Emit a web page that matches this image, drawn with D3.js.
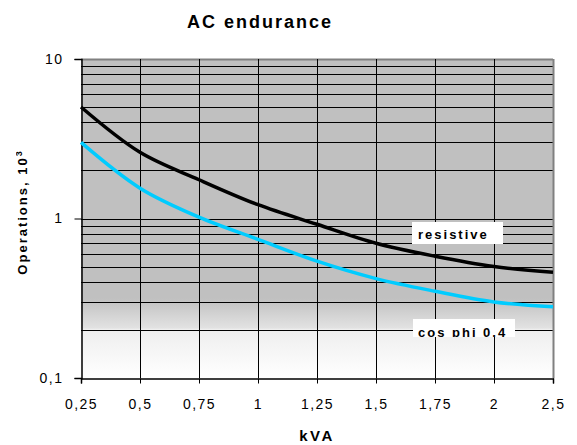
<!DOCTYPE html>
<html>
<head>
<meta charset="utf-8">
<script src="https://cdn.jsdelivr.net/npm/d3@7"></script>
<style>
  body { margin: 0; background: #fff; }
  text { font-family: Arial, "Liberation Sans", sans-serif; }
</style>
</head>
<body>
<div id="chart"></div>
<script>
// categories on the x axis (Excel line chart, so evenly spaced)
var kva = ["0,25", "0,5", "0,75", "1", "1,25", "1,5", "1,75", "2", "2,5"];
// operations (x 10^3)
var resistive = [5.0, 2.6, 1.75, 1.22, 0.92, 0.70, 0.58, 0.50, 0.46];
var cosPhi = [3.0, 1.55, 1.02, 0.74, 0.54, 0.42, 0.35, 0.30, 0.28];
var yTicks = [0.1, 1, 10];

var width = 577, height = 445;
// note: "top" is a reserved window property, so use plot* names
var plotLeft = 81, plotRight = 553, plotTop = 59, plotBottom = 378;

var svg = d3.select("#chart")
  .append("svg")
  .attr("width", width)
  .attr("height", height);

// scales
var x = d3.scalePoint()
  .domain(kva)
  .range([plotLeft, plotRight]);

var y = d3.scaleLog()
  .domain([0.1, 10])
  .range([plotBottom, plotTop]);

// background gradient (grey fading to white at the bottom)
var defs = svg.append("defs");
var grad = defs.append("linearGradient")
  .attr("id", "bg")
  .attr("x1", 0).attr("y1", 0).attr("x2", 0).attr("y2", 1);
grad.append("stop").attr("offset", 0).attr("stop-color", "#c0c0c0");
grad.append("stop").attr("offset", 0.75).attr("stop-color", "#c0c0c0");
grad.append("stop").attr("offset", 0.843).attr("stop-color", "#e2e2e2");
grad.append("stop").attr("offset", 0.848).attr("stop-color", "#eeeeee");
grad.append("stop").attr("offset", 1).attr("stop-color", "#ffffff");

svg.append("rect")
  .attr("x", plotLeft)
  .attr("y", plotTop)
  .attr("width", plotRight - plotLeft)
  .attr("height", plotBottom - plotTop)
  .attr("fill", "url(#bg)");

// horizontal grid: every 1..9 step in each decade
var gridVals = [];
[0.1, 1].forEach(function (d) {
  for (var k = 2; k <= 10; k++) gridVals.push(d * k);
});
svg.append("g")
  .selectAll("line")
  .data(gridVals)
  .enter()
  .append("line")
  .attr("x1", plotLeft)
  .attr("x2", plotRight)
  .attr("y1", function (d) { return Math.round(y(d)) + 0.5 })
  .attr("y2", function (d) { return Math.round(y(d)) + 0.5 })
  .attr("stroke", function (d) { return d == 10 ? "#808080" : "#000" })
  .attr("stroke-width", function (d) { return d == 10 ? 2 : 1 });

// vertical grid at each category
svg.append("g")
  .selectAll("line")
  .data(kva.slice(1))
  .enter()
  .append("line")
  .attr("x1", function (d) { return Math.round(x(d)) + 0.5 })
  .attr("x2", function (d) { return Math.round(x(d)) + 0.5 })
  .attr("y1", plotTop)
  .attr("y2", plotBottom)
  .attr("stroke", function (d, i) { return i == kva.length - 2 ? "#808080" : "#000" })
  .attr("stroke-width", function (d, i) { return i == kva.length - 2 ? 2 : 1 });

// axes
var fmt = function (d) { return String(d).replace(".", ",") };

var yAxis = svg.append("g")
  .attr("transform", "translate(" + (plotLeft + 0.5) + ",0)")
  .call(d3.axisLeft(y).tickValues(yTicks).tickFormat(fmt).tickSize(7).tickPadding(11));

var xAxis = svg.append("g")
  .attr("transform", "translate(0," + (plotBottom + 0.5) + ")")
  .call(d3.axisBottom(x).tickSize(5).tickPadding(16));

[yAxis, xAxis].forEach(function (g) {
  g.select(".domain").attr("stroke", "#000").attr("stroke-width", 1.5);
  g.selectAll(".tick line").attr("stroke", "#000");
  g.selectAll("text")
    .style("font-size", "14px")
    .style("letter-spacing", "1.5px")
    .attr("fill", "#000");
});

// curves
var line = d3.line()
  .x(function (d, i) { return x(kva[i]) })
  .y(function (d) { return y(d) })
  .curve(d3.curveCatmullRom);

svg.append("path")
  .datum(resistive)
  .attr("d", line)
  .attr("fill", "none")
  .attr("stroke", "#000")
  .attr("stroke-width", 3.5);

svg.append("path")
  .datum(cosPhi)
  .attr("d", line)
  .attr("fill", "none")
  .attr("stroke", "#00ccff")
  .attr("stroke-width", 3.5);

// series labels in white boxes
svg.append("rect")
  .attr("x", 412).attr("y", 222)
  .attr("width", 91).attr("height", 22)
  .attr("fill", "#fff");
svg.append("text")
  .attr("x", 418).attr("y", 239)
  .style("font-size", "13px")
  .style("font-weight", "bold")
  .style("letter-spacing", "2px")
  .text("resistive");

defs.append("clipPath").attr("id", "cosclip")
  .append("rect")
  .attr("x", 413).attr("y", 319)
  .attr("width", 102).attr("height", 18);
svg.append("rect")
  .attr("x", 413).attr("y", 319)
  .attr("width", 102).attr("height", 18)
  .attr("fill", "#fff");
svg.append("text")
  .attr("clip-path", "url(#cosclip)")
  .attr("x", 418).attr("y", 337)
  .style("font-size", "13px")
  .style("font-weight", "bold")
  .style("letter-spacing", "2px")
  .text("cos phi 0,4");

// titles
svg.append("text")
  .attr("x", 260).attr("y", 28)
  .attr("text-anchor", "middle")
  .style("font-size", "18px")
  .style("font-weight", "bold")
  .style("letter-spacing", "2px")
  .text("AC endurance");

svg.append("text")
  .attr("x", 317).attr("y", 441)
  .attr("text-anchor", "middle")
  .style("font-size", "15px")
  .style("font-weight", "bold")
  .style("letter-spacing", "2.5px")
  .text("kVA");

// y title, its left edge is cut off a little like in the original
defs.append("clipPath").attr("id", "yclip")
  .append("rect")
  .attr("x", 16).attr("y", 0)
  .attr("width", 60).attr("height", height);
var yt = svg.append("g")
  .attr("clip-path", "url(#yclip)")
  .append("text")
  .attr("transform", "translate(27,212) rotate(-90)")
  .attr("text-anchor", "middle")
  .style("font-size", "13px")
  .style("font-weight", "bold")
  .style("letter-spacing", "2px");
yt.append("tspan").text("Operations, 10");
yt.append("tspan").attr("dy", -5).style("font-size", "9px").text("3");
</script>
</body>
</html>
